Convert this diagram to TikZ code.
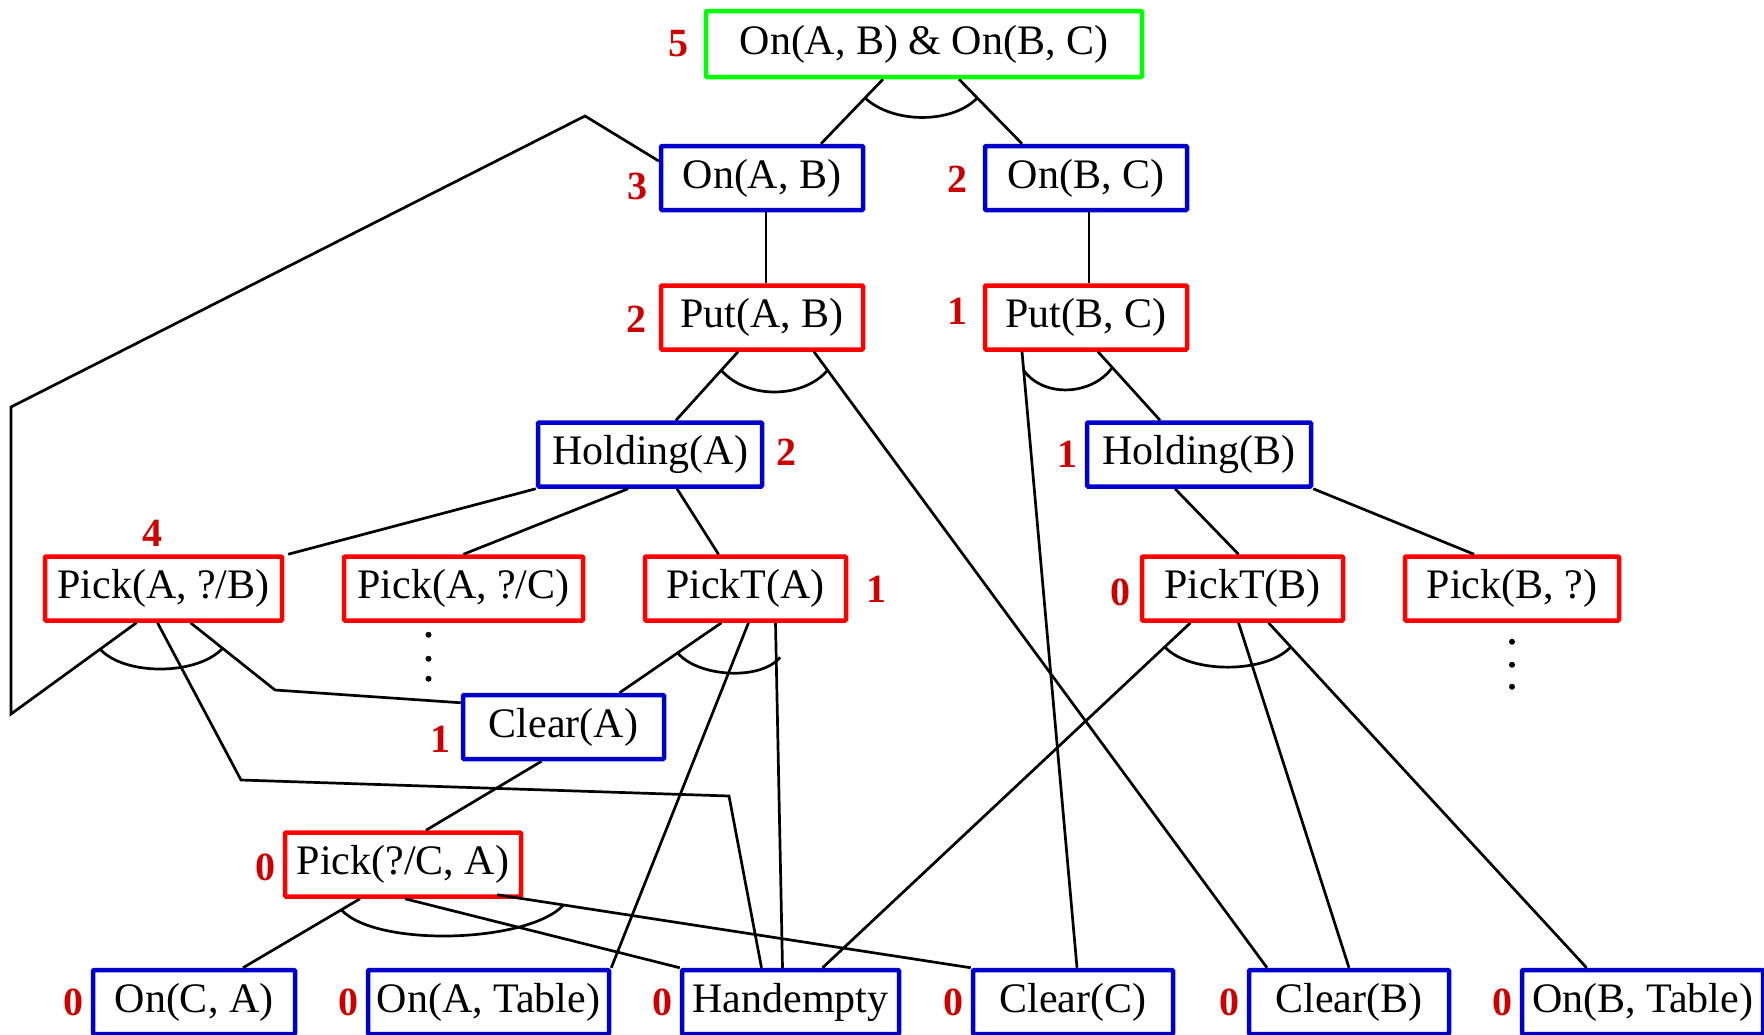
\documentclass[tikz,border=0pt]{standalone}
\usepackage{fontspec}
\setmainfont{Liberation Serif}
\usetikzlibrary{positioning}
\definecolor{goalblue}{RGB}{0,0,204}
\definecolor{numred}{RGB}{204,0,0}
\definecolor{rootgreen}{RGB}{0,255,0}
\begin{document}
\begin{tikzpicture}[x=1pt,y=-1pt,
  box/.style={rectangle,draw,line width=4.5pt,rounded corners=1pt,minimum height=64pt,inner sep=0pt,font=\fontsize{42}{50}\selectfont},
  goal/.style={box,draw=goalblue},
  act/.style={box,draw=red},
  cost/.style={inner sep=0pt,text=numred,font=\fontsize{40}{48}\selectfont\bfseries},
  link/.style={line width=2.7pt}]
\useasboundingbox (0,0) rectangle (1764,1034);
\node [box,draw=rootgreen,minimum width=436pt,minimum height=66pt] (root) at (924,44) {On(A, B) \& On(B, C)};
\node [goal,minimum width=202pt] (OnAB) at (762,178) {On(A, B)};
\node [goal,minimum width=202pt] (OnBC) at (1086,178) {On(B, C)};
\node [act,minimum width=202pt] (PutAB) at (762,317.5) {Put(A, B)};
\node [act,minimum width=202pt] (PutBC) at (1086,317.5) {Put(B, C)};
\node [goal,minimum width=224pt] (HoldA) at (650,454.5) {Holding(A)};
\node [goal,minimum width=224pt] (HoldB) at (1199,454.5) {Holding(B)};
\node [act,minimum width=237pt] (PickAB) at (163.5,588.5) {Pick(A, ?/B)};
\node [act,minimum width=239pt] (PickAC) at (463.5,588.5) {Pick(A, ?/C)};
\node [act,minimum width=201pt] (PickTA) at (745.5,588.5) {PickT(A)};
\node [act,minimum width=201pt] (PickTB) at (1242.5,588.5) {PickT(B)};
\node [act,minimum width=214pt] (PickB) at (1512,588.5) {Pick(B, ?)};
\node [goal,minimum width=201pt] (ClearA) at (563.5,727) {Clear(A)};
\node [act,minimum width=236pt] (PickCA) at (403,864.5) {Pick(?/C, A)};
\node [goal,minimum width=202pt] (OnCA) at (194,1002) {On(C, A)};
\node [goal,minimum width=241pt] (OnAT) at (488.5,1002) {On(A, Table)};
\node [goal,minimum width=217pt] (Hand) at (790.5,1002) {Handempty};
\node [goal,minimum width=200pt] (ClearC) at (1073,1002) {Clear(C)};
\node [goal,minimum width=200pt] (ClearB) at (1349,1002) {Clear(B)};
\node [goal,minimum width=241pt] (OnBT) at (1642.5,1002) {On(B, Table)};
% costs
\node [cost,left=15pt of root] (n0) {5};
\node [cost,left=11pt of OnAB,yshift=-8pt] (n1) {3};
\node [cost,left=15pt of OnBC,yshift=-1pt] (n2) {2};
\node [cost,left=12pt of PutAB,yshift=-2pt] (n3) {2};
\node [cost,left=15pt of PutBC,yshift=6pt] (n4) {1};
\node [cost,right=12pt of HoldA,yshift=2pt] (n5) {2};
\node [cost,left=7pt of HoldB] (n6) {1};
\node [cost,above=8pt of PickAB,xshift=-11pt] (n7) {4};
\node [cost,right=18pt of PickTA,yshift=-1pt] (n8) {1};
\node [cost,left=9pt of PickTB,yshift=-4pt] (n9) {0};
\node [cost,left=10pt of ClearA,yshift=-12pt] (n10) {1};
\node [cost,left=7pt of PickCA,yshift=-3pt] (n11) {0};
\foreach \b in {OnCA,OnAT,Hand,ClearC,ClearB,OnBT}
  \node [cost,left=7pt of \b] (z\b) {0};
% links
\draw[link] ([xshift=-41pt]root.south) -- coordinate[pos=.29] (a1) ([xshift=59pt]OnAB.north);
\draw[link] ([xshift=35pt]root.south) -- coordinate[pos=.29] (a2) ([xshift=-64pt]OnBC.north);
\draw[link] (a1) .. controls +(28,26) and +(-25,26) .. (a2);
\draw[link] ([xshift=4pt]OnAB.south) -- ([xshift=4pt]PutAB.north);
\draw[link] ([xshift=3pt]OnBC.south) -- ([xshift=3pt]PutBC.north);
\draw[link] ([xshift=-24pt]PutAB.south) -- coordinate[pos=.27] (b1) ([xshift=26pt]HoldA.north);
\draw[link] ([xshift=52pt]PutAB.south) -- coordinate[pos=.03] (b2) ([xshift=-82pt]ClearB.north);
\draw[link] (b1) .. controls +(25,29) and +(-25,29) .. (b2);
\draw[link] ([xshift=-64pt]PutBC.south) -- coordinate[pos=.03] (c1) ([xshift=4pt]ClearC.north);
\draw[link] ([xshift=12pt]PutBC.south) -- coordinate[pos=.23] (c2) ([xshift=-39pt]HoldB.north);
\draw[link] (c1) .. controls +(20,28) and +(-20,28) .. (c2);
\draw[link] (HoldA.south west) -- ([xshift=4pt]PickAB.north east);
\draw[link] ([xshift=-22pt]HoldA.south) -- (PickAC.north);
\draw[link] ([xshift=27pt]HoldA.south) -- ([xshift=-27pt]PickTA.north);
\draw[link] ([xshift=-24pt]HoldB.south) -- ([xshift=-4pt]PickTB.north);
\draw[link] (HoldB.south east) -- ([xshift=-38pt]PickB.north);
\draw[link] ([xshift=-27pt]PickAB.south) -- coordinate[pos=.29] (d1) (11,714) -- (11,407) -- (585,116) -- ([yshift=17pt]OnAB.west);
\draw[link] ([xshift=-6pt]PickAB.south) -- (241,780) -- (729,796) -- ([xshift=-29pt]Hand.north);
\draw[link] ([xshift=27pt]PickAB.south) -- coordinate[pos=.38] (d2) (275,690) -- ([yshift=-10pt]ClearA.north west);
\draw[link] (d1) .. controls +(25,27) and +(-25,27) .. (d2);
\draw[link] ([xshift=-24pt]PickTA.south) -- coordinate[pos=.43] (e1) ([xshift=56pt]ClearA.north);
\draw[link] ([xshift=3pt]PickTA.south) -- (OnAT.north east);
\draw[link] ([xshift=30pt]PickTA.south) -- coordinate[pos=.1] (e2) ([xshift=-8pt]Hand.north);
\draw[link] (e1) .. controls +(20,24) and +(-20,24) .. ([xshift=4pt]e2);
\draw[link] ([xshift=-52pt]PickTB.south) -- coordinate[pos=.07] (f1) ([xshift=32pt]Hand.north);
\draw[link] ([xshift=-4pt]PickTB.south) -- (ClearB.north);
\draw[link] ([xshift=26pt]PickTB.south) -- coordinate[pos=.07] (f2) ([xshift=-56pt]OnBT.north);
\draw[link] (f1) .. controls +(25,27) and +(-25,27) .. (f2);
\draw[link] ([xshift=-22pt]ClearA.south) -- ([xshift=23pt]PickCA.north);
\draw[link] ([xshift=-43pt]PickCA.south) -- coordinate[pos=.16] (g1) ([xshift=49pt]OnCA.north);
\draw[link] ([xshift=2pt]PickCA.south) -- (Hand.north west);
\draw[link] ([xshift=-26pt,yshift=4pt]PickCA.south east) -- coordinate[pos=.14] (g2) (ClearC.north west);
\draw[link] (g1) .. controls +(35,38) and +(-35,38) .. (g2);
% dots
\foreach \d in {-12pt,-36pt,-56pt}
  \fill ([xshift=-35pt,yshift=\d]PickAC.south) circle (3pt);
\foreach \d in {-19pt,-42pt,-64pt}
  \fill ([yshift=\d]PickB.south) circle (3pt);
\end{tikzpicture}
\end{document}
